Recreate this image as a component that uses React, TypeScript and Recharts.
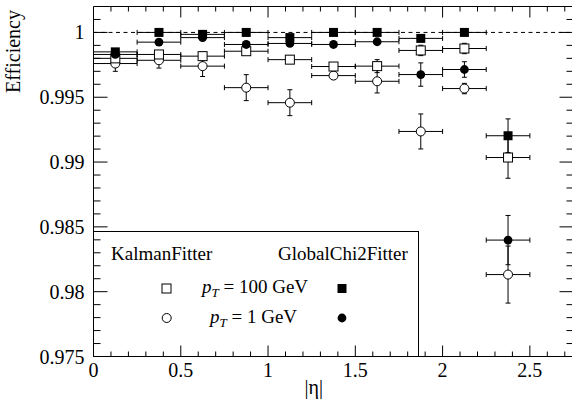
import {
  ScatterChart, Scatter, XAxis, YAxis, ErrorBar, ReferenceLine,
} from "recharts";

// |eta| bin centres, each bin is 0.25 wide
const etaBins = [0.125, 0.375, 0.625, 0.875, 1.125, 1.375, 1.625, 1.875, 2.125, 2.375];
const binHalfWidth = 0.125;

const kalman100 = [0.998, 0.9983, 0.99817, 0.99855, 0.9979, 0.99737, 0.9974, 0.99861, 0.99876, 0.99035];
const kalman100Err = [0.0002, 0.0002, 0.0003, 0.0002, 0.0003, 0.0003, 0.0005, 0.0004, 0.0004, 0.0016];
const kalman1 = [0.9976, 0.99785, 0.9974, 0.99574, 0.99458, 0.99667, 0.99623, 0.99236, 0.99567, 0.98132];
const kalman1Err = [0.0006, 0.0006, 0.0008, 0.001, 0.001, 0.0003, 0.0009, 0.00135, 0.0004, 0.0022];
const global100 = [0.9985, 1.0, 0.99985, 1.0, 0.9996, 1.0, 1.0, 0.99954, 1.0, 0.99203];
const global100Err = [0.0001, 0.00005, 0.00005, 0.00005, 0.0001, 0.00005, 0.00005, 0.0001, 0.00005, 0.0013];
const global1 = [0.9983, 0.99925, 0.9996, 0.99907, 0.99915, 0.99907, 0.99928, 0.99675, 0.99714, 0.98398];
const global1Err = [0.0002, 0.0002, 0.0002, 0.0002, 0.0002, 0.0002, 0.0002, 0.0009, 0.0006, 0.0019];

const xMajor = [0, 0.5, 1, 1.5, 2, 2.5];
const yMajor = [0.975, 0.98, 0.985, 0.99, 0.995, 1];
const xTicks = Array.from({ length: 28 }, (_, i) => +(i * 0.1).toFixed(1));
const yTicks = Array.from({ length: 27 }, (_, i) => +(0.975 + i * 0.001).toFixed(3));
const xMax = 2.75;
const yMin = 0.975;
const yMax = 1.002;

const rows = (ys: number[], errs: number[]) =>
  etaBins.map((x, i) => ({ x, y: ys[i], ex: binHalfWidth, ey: errs[i] }));

// tick marks on the four frame edges, placed through the chart scales
const leftTickPts = yTicks.map((y) => ({ x: 0, y }));
const rightTickPts = yTicks.map((y) => ({ x: xMax, y }));
const bottomTickPts = xTicks.map((x) => ({ x, y: yMin }));
const topTickPts = xTicks.map((x) => ({ x, y: yMax }));

const FONT = "'Liberation Serif', 'Times New Roman', serif";
const isMajor = (v: number, list: number[]) => list.some((m) => Math.abs(m - v) < 1e-6);

const hTick = (dir: number) => (p: any) => {
  const len = isMajor(p.payload.y, yMajor) ? 14 : 7;
  return <path d={`M${p.cx},${p.cy}h${dir * len}`} stroke="#000" strokeWidth={1} fill="none" />;
};
const vTick = (dir: number) => (p: any) => {
  const len = isMajor(p.payload.x, xMajor) ? 11 : 5;
  return <path d={`M${p.cx},${p.cy}v${dir * len}`} stroke="#000" strokeWidth={1} fill="none" />;
};

const LeftLabel = (props: any) =>
  isMajor(props.payload.value, yMajor) ? (
    <text x={Number(props.x) - 9} y={Number(props.y) + 7} textAnchor="end" fontFamily={FONT} fontSize={20} fill="#000">
      {String(props.payload.value)}
    </text>
  ) : <g />;

const BottomLabel = (props: any) =>
  isMajor(props.payload.value, xMajor) ? (
    <text x={Number(props.x)} y={Number(props.y) + 20} textAnchor="middle" fontFamily={FONT} fontSize={20} fill="#000">
      {String(props.payload.value)}
    </text>
  ) : <g />;

const openSquare = (p: any) => (
  <rect x={p.cx - 4.5} y={p.cy - 4.5} width={9} height={9} fill="#fff" stroke="#000" />
);
const filledSquare = (p: any) => (
  <rect x={p.cx - 4.5} y={p.cy - 4.5} width={9} height={9} fill="#000" />
);
const openCircle = (p: any) => <circle cx={p.cx} cy={p.cy} r={4.5} fill="#fff" stroke="#000" />;
const filledCircle = (p: any) => <circle cx={p.cx} cy={p.cy} r={4.4} fill="#000" />;

const bars = () => [
  <ErrorBar key="ey" dataKey="ey" direction="y" width={2.5} stroke="#000" strokeWidth={1} />,
  <ErrorBar key="ex" dataKey="ex" direction="x" width={2.5} stroke="#000" strokeWidth={1} />,
];

// legend box and axis titles, drawn over the chart
const Overlay = () => (
  <svg
    width={572} height={400} fontFamily={FONT} fontSize={19}
    style={{ position: "absolute", left: 0, top: 0, pointerEvents: "none" }}
  >
    <text x={20} y={10} transform="rotate(-90, 20, 10)" textAnchor="end" fontSize={20} fill="#000">Efficiency</text>
    <text x={323} y={394} textAnchor="end" fontSize={20} fill="#000">|η|</text>
    <g transform="translate(93, 231)">
      <rect x={0.5} y={0.5} width={325} height={125} fill="none" stroke="#000" />
      <text x={18} y={29}>KalmanFitter</text>
      <text x={185} y={29}>GlobalChi2Fitter</text>
      <rect x={69} y={53} width={9} height={9} fill="#fff" stroke="#000" />
      <text x={109} y={62}>
        <tspan fontStyle="italic">p</tspan>
        <tspan fontStyle="italic" fontSize={13} dy={4}>T</tspan>
        <tspan dy={-4}> = 100 GeV</tspan>
      </text>
      <rect x={244.5} y={53} width={9} height={9} fill="#000" />
      <circle cx={73.7} cy={87} r={4.5} fill="#fff" stroke="#000" />
      <text x={117} y={92}>
        <tspan fontStyle="italic">p</tspan>
        <tspan fontStyle="italic" fontSize={13} dy={4}>T</tspan>
        <tspan dy={-4}> = 1 GeV</tspan>
      </text>
      <circle cx={249} cy={87} r={4.4} fill="#000" />
    </g>
  </svg>
);

export default function App() {
  return (
    <div style={{ position: "absolute", left: 0, top: 0, width: 572, height: 400, overflow: "hidden", background: "#fff" }}>
      <ScatterChart width={575} height={400} margin={{ top: 6.5, right: 1.5, left: 0.5, bottom: 0 }}>
        <XAxis
          type="number" dataKey="x" domain={[0, xMax]} allowDataOverflow
          ticks={xTicks} interval={0} tickSize={0} tickMargin={0}
          tick={(p: any) => <BottomLabel {...p} />} height={43.5} stroke="#000"
        />
        <YAxis
          type="number" dataKey="y" domain={[yMin, yMax]} allowDataOverflow
          ticks={yTicks} interval={0} tickSize={0} tickMargin={0}
          tick={(p: any) => <LeftLabel {...p} />} width={93} stroke="#000"
        />
        <ReferenceLine y={yMax} stroke="#000" />
        <ReferenceLine x={xMax} stroke="#000" />
        <ReferenceLine y={1} stroke="#000" strokeDasharray="4 3.5" />
        <Scatter data={leftTickPts} shape={hTick(1)} isAnimationActive={false} />
        <Scatter data={rightTickPts} shape={hTick(-1)} isAnimationActive={false} />
        <Scatter data={bottomTickPts} shape={vTick(-1)} isAnimationActive={false} />
        <Scatter data={topTickPts} shape={vTick(1)} isAnimationActive={false} />
        <Scatter data={rows(kalman1, kalman1Err)} shape={openCircle} isAnimationActive={false}>
          {bars()}
        </Scatter>
        <Scatter data={rows(kalman100, kalman100Err)} shape={openSquare} isAnimationActive={false}>
          {bars()}
        </Scatter>
        <Scatter data={rows(global1, global1Err)} shape={filledCircle} isAnimationActive={false}>
          {bars()}
        </Scatter>
        <Scatter data={rows(global100, global100Err)} shape={filledSquare} isAnimationActive={false}>
          {bars()}
        </Scatter>
      </ScatterChart>
      <Overlay />
    </div>
  );
}
